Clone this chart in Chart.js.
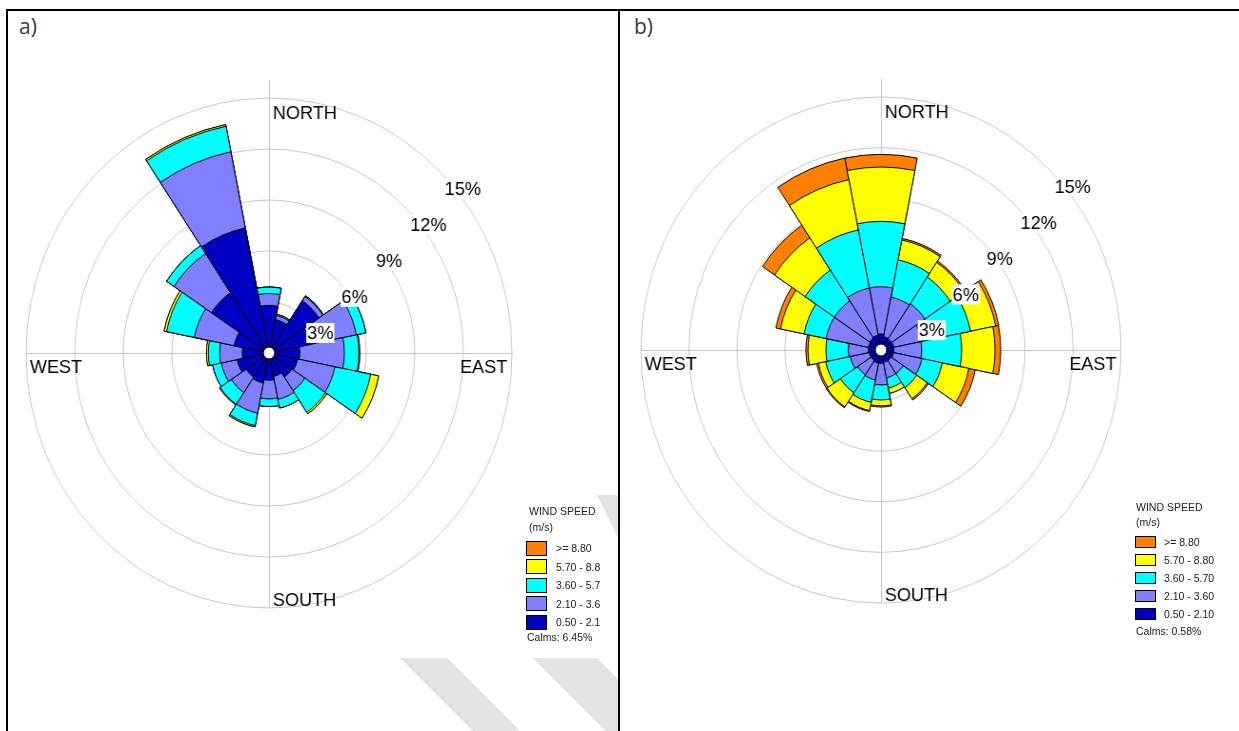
<!DOCTYPE html>
<html><head><meta charset="utf-8">
<script src="https://cdn.jsdelivr.net/npm/chart.js@4/dist/chart.umd.min.js"></script>
<style>
html,body{margin:0;padding:0;background:#fff;}
body{width:1239px;height:731px;overflow:hidden;position:relative;font-family:"Liberation Sans",Arial,sans-serif;}
canvas{position:absolute;z-index:2;}
#wm{position:absolute;left:0;top:0;z-index:1;}
#ca{left:-31px;top:53px;transform-origin:300px 300px;transform:scaleX(0.953);}
#cb{left:581px;top:50px;transform-origin:300px 300px;transform:scaleX(0.949);}
.ln{position:absolute;background:#000;z-index:5;}
.tag{position:absolute;font-family:"Open Sans",sans-serif;font-size:21px;color:#3a3a3a;line-height:1;z-index:5;}
.lg{position:absolute;left:0;top:0;font-size:10.5px;color:#222;z-index:5;white-space:nowrap;line-height:1;}
.lg .t{position:absolute;transform:translateY(-50%);}
.lg .b{position:absolute;border:1px solid #000;box-sizing:border-box;}
</style></head>
<body>
<svg id="wm" width="1239" height="731">
  <g fill="#e4e4e4">
    <polygon points="400,658 447,658 520,731 473,731"/>
    <polygon points="533,658 597,658 620,681 620,731 606,731"/>
    <polygon points="597,495 620,495 620,542"/>
  </g>
</svg>
<canvas id="ca" width="600" height="600"></canvas>
<canvas id="cb" width="600" height="600"></canvas>
<div class="ln" style="left:6px;top:9px;width:1233px;height:2px"></div>
<div class="ln" style="left:6px;top:9px;width:2px;height:722px"></div>
<div class="ln" style="left:618px;top:9px;width:2px;height:722px"></div>
<div class="tag" style="left:19px;top:16px">a)</div>
<div class="tag" style="left:634px;top:16px">b)</div>
<div id="lga" class="lg"></div>
<div id="lgb" class="lg"></div>
<script>
// ---- categories ----
const directions = ['N','NNE','NE','ENE','E','ESE','SE','SSE','S','SSW','SW','WSW','W','WNW','NW','NNW'];
const binLabelsA = ['0.50 - 2.1','2.10 - 3.6','3.60 - 5.7','5.70 - 8.8','>= 8.80'];
const binLabelsB = ['0.50 - 2.10','2.10 - 3.60','3.60 - 5.70','5.70 - 8.80','>= 8.80'];
const binColors = ['#0000C0','#8080FF','#00FFFF','#FFFF00','#FF8000'];
const ringTicks = [3,6,9,12,15];
const ringTickLabels = ['3%','6%','9%','12%','15%'];
const compassLabels = ['NORTH','EAST','SOUTH','WEST'];
const calmsA = 'Calms: 6.45%';
const calmsB = 'Calms: 0.58%';

// ---- chart a: frequency (%) per speed class, per direction ----
const aBin1 = [2.8,2.0,3.7,2.6,1.9,1.8,1.7,1.4,1.6,1.8,1.7,2.0,1.65,2.2,4.27,7.5];
const aBin2 = [0.7,0.25,0.3,2.9,2.75,2.35,0.96,1.38,1.1,1.81,1.1,1.0,1.4,2.5,2.78,4.57];
const aBin3 = [0.38,0.07,0.05,0.6,0.9,2.25,1.53,0.52,0.45,0.74,0.83,0.55,0.7,1.75,0.55,1.53];
const aBin4 = [0,0,0,0,0.05,0.5,0.11,0,0,0.08,0.05,0,0.11,0.15,0,0.1];
const aBin5 = [0,0,0,0,0,0,0,0,0,0,0,0,0,0,0,0];

// ---- chart b ----
const bBin1 = [0.95,0.8,0.8,0.8,0.8,0.8,0.75,0.75,0.8,0.8,0.75,0.75,0.8,0.8,0.85,0.9];
const bBin2 = [2.8,2.4,2.5,1.84,1.74,1.8,0.92,0.93,1.27,1.01,1.01,1.21,1.24,2.7,2.65,2.85];
const bBin3 = [3.88,2.25,1.9,3.06,2.5,1.3,1.01,0.62,0.89,1.35,1.29,1.56,1.4,1.4,2.2,3.51];
const bBin4 = [3.22,1.2,1.05,1.6,2.08,1.7,0.79,0.32,0.35,0.5,1.01,0.47,1.12,1.5,2.3,3.04];
const bBin5 = [0.75,0.1,0.1,0.2,0.36,0.4,0.1,0,0.07,0.06,0.06,0.11,0.13,0.3,0.9,1.3];

function stack(bins){
  const out=[]; let run=directions.map(()=>0);
  bins.forEach(b=>{ run=run.map((v,i)=>+(v+b[i]).toFixed(3)); out.push(run.slice()); });
  return out;
}

const roseDecor = {
  id:'roseDecor',
  beforeDatasetsDraw(chart){
    const s=chart.scales.r, ctx=chart.ctx, R=s.getDistanceFromCenterForValue(15);
    const cx=s.xCenter, cy=s.yCenter;
    ctx.save(); ctx.strokeStyle='#c8c8c8'; ctx.lineWidth=1; ctx.beginPath();
    ctx.moveTo(cx+0.5, cy-R-18); ctx.lineTo(cx+0.5, cy+R);
    ctx.moveTo(cx-R, cy+0.5); ctx.lineTo(cx+R, cy+0.5);
    ctx.stroke(); ctx.restore();
  },
  afterDatasetsDraw(chart){
    const s=chart.scales.r, ctx=chart.ctx, R=s.getDistanceFromCenterForValue(15);
    const cx=s.xCenter, cy=s.yCenter;
    ctx.save();
    // calm circle
    ctx.beginPath(); ctx.arc(cx,cy,6,0,Math.PI*2); ctx.fillStyle='#fff'; ctx.fill();
    ctx.strokeStyle='#000'; ctx.lineWidth=1; ctx.stroke();
    // ring labels (placed on each ring along the 45 degree direction)
    ctx.font='19px "Liberation Sans", Arial, sans-serif';
    ctx.textBaseline='middle'; ctx.textAlign='left';
    ringTicks.forEach((v,i)=>{
      const d=s.getDistanceFromCenterForValue(v);
      const px=cx+d*Math.SQRT1_2, py=cy-d*Math.SQRT1_2;
      const w=ctx.measureText(ringTickLabels[i]).width;
      ctx.fillStyle='#fff'; ctx.fillRect(px+3,py+6,w+2,20);
      ctx.fillStyle='#000'; ctx.fillText(ringTickLabels[i],px+4,py+17);
    });
    // compass labels
    ctx.textBaseline='alphabetic'; ctx.fillStyle='#000';
    ctx.fillText(compassLabels[0], cx+4, cy-R+21);
    ctx.fillText(compassLabels[2], cx+4, cy+R-2);
    ctx.fillText(compassLabels[3], cx-R+4, cy+20);
    ctx.textAlign='right';
    ctx.fillText(compassLabels[1], cx+R-5, cy+20);
    ctx.restore();
  }
};

function makeRose(id, bins, labels, maxVal){
  const cum=stack(bins);
  new Chart(document.getElementById(id),{
    type:'polarArea',
    data:{labels:directions, datasets:cum.map((d,i)=>({
      label:labels[i], data:d, backgroundColor:binColors[i], borderColor:'#000', borderWidth:1
    }))},
    options:{
      responsive:false, animation:false, layout:{padding:0},
      plugins:{legend:{display:false}, tooltip:{enabled:false}},
      scales:{r:{min:0,max:maxVal,startAngle:-11.25,
        ticks:{display:false,stepSize:3},
        grid:{circular:true,lineWidth:1,color:(c)=>(c.tick && c.tick.value%3===0 && c.tick.value<=15)?'#c8c8c8':'rgba(0,0,0,0)'},
        angleLines:{display:false}, pointLabels:{display:false}}}
    },
    plugins:[roseDecor]
  });
}
makeRose('ca',[aBin1,aBin2,aBin3,aBin4,aBin5],binLabelsA,15*300/255);
makeRose('cb',[bBin1,bBin2,bBin3,bBin4,bBin5],binLabelsB,15*300/253);

function legend(id, labels, boxX, boxW, boxH, textX, rowY, calms, calmsX, calmsY){
  const el=document.getElementById(id);
  let h='';
  h+=`<div class="t" style="left:${textX.title}px;top:${rowY.title}px">WIND SPEED</div>`;
  h+=`<div class="t" style="left:${textX.title}px;top:${rowY.unit}px">(m/s)</div>`;
  for(let k=0;k<5;k++){
    const i=4-k, y=rowY.first+k*rowY.step;
    h+=`<div class="b" style="left:${boxX}px;top:${y-boxH/2}px;width:${boxW}px;height:${boxH}px;background:${binColors[i]}"></div>`;
    h+=`<div class="t" style="left:${textX.item}px;top:${y}px">${labels[i].replace('>','&gt;')}</div>`;
  }
  h+=`<div class="t" style="left:${calmsX}px;top:${calmsY}px">${calms}</div>`;
  el.innerHTML=h;
}
legend('lga',binLabelsA,526,21,15,{title:529,item:556},{title:511,unit:527,first:548,step:18.5},calmsA,527,637);
legend('lgb',binLabelsB,1135,21,12,{title:1136,item:1164},{title:507,unit:522,first:542,step:18},calmsB,1136,631);
</script>
</body></html>
